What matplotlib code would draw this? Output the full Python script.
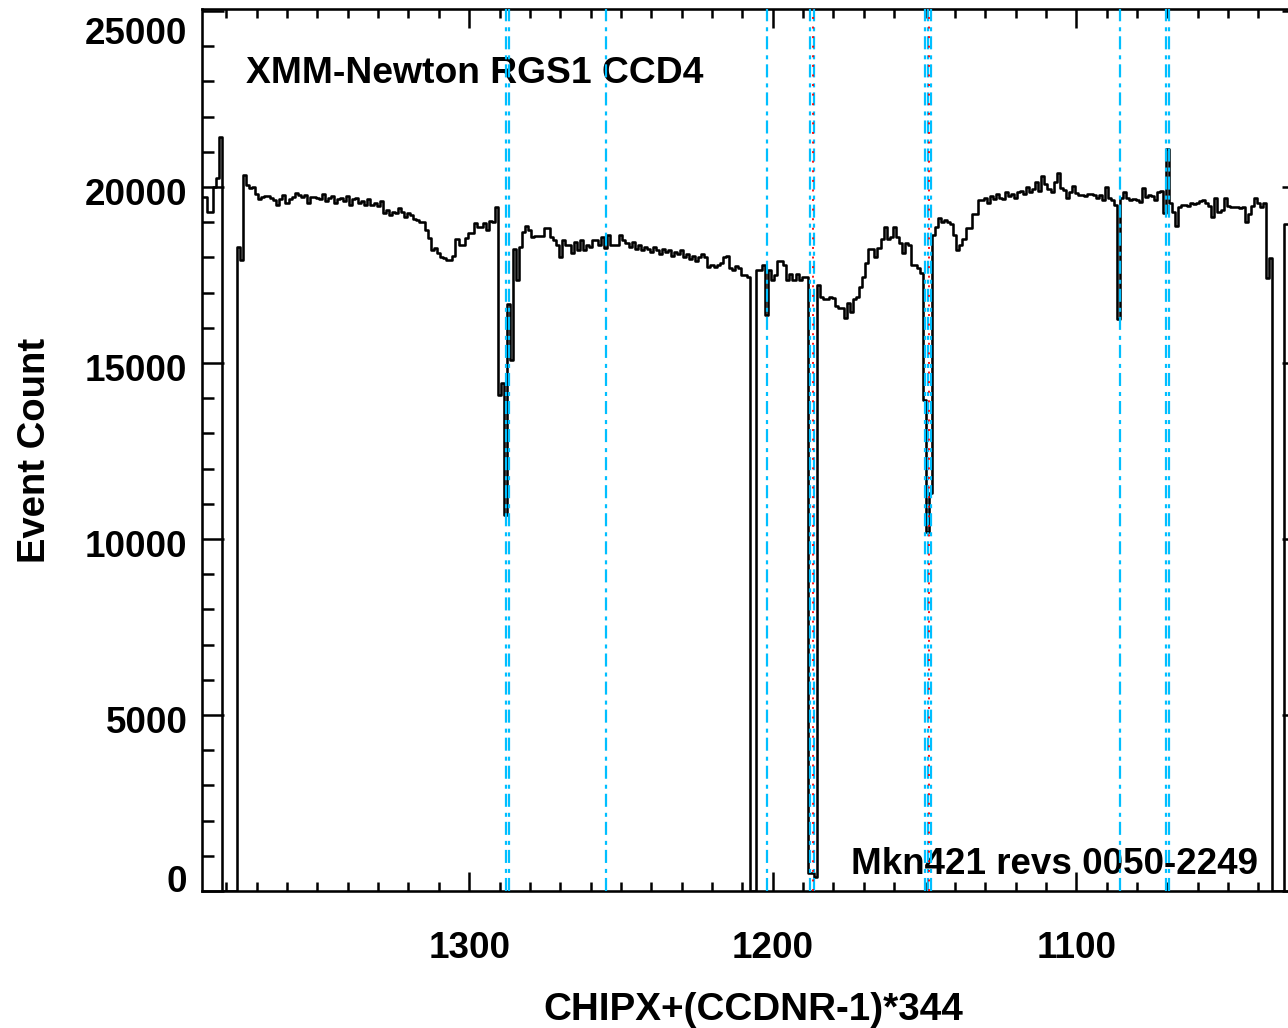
import matplotlib
matplotlib.use("Agg")
import matplotlib.pyplot as plt
import matplotlib.transforms as mtransforms
from matplotlib.ticker import MultipleLocator, FixedLocator

plt.rcParams['font.family'] = ['Liberation Sans', 'DejaVu Sans']
plt.rcParams['font.weight'] = 'bold'
plt.rcParams['lines.scale_dashes'] = False

# ---------------- data ----------------
# CHIPX+(CCDNR-1)*344 bin centres, from 1388 down to 1029 (one bin per pixel)
chipx = list(range(1388, 1028, -1))

event_count = [
    # 1388 - 1377 (edge of CCD5, gap)
    19720, 19720, 19290, 19290, 20000, 20260, 21420, 0, 0, 0, 0, 0,
    # 1376 - 1350
    18300, 17930, 20340, 20060, 19970, 20000, 19800, 19660, 19720, 19750,
    19750, 19690, 19630, 19490, 19660, 19770, 19550, 19660, 19720, 19830,
    19770, 19720, 19770, 19550, 19720, 19720, 19700,
    # 1349 - 1317
    19650, 19800, 19600, 19700, 19750, 19550, 19650, 19700, 19600, 19750,
    19500, 19650, 19700, 19550, 19600, 19500, 19650, 19500, 19550, 19450,
    19600, 19250, 19350, 19200, 19300, 19250, 19400, 19300, 19150, 19250,
    19200, 19100, 19050,
    # 1316 - 1250
    19010, 19010, 18780, 18550, 18210, 18270, 18130, 18000, 17980, 17930,
    17930, 18040, 18520, 18350, 18350, 18550, 18690, 18690, 18980, 18870,
    18870, 18980, 18780, 19030, 19010, 19430, 14090, 14430, 10680, 16680,
    15080, 18240, 17360, 18300, 18720, 18890, 18780, 18580, 18610, 18610,
    18610, 18840, 18840, 18580, 18500, 18350, 18010, 18500, 18350, 18350,
    18130, 18440, 18210, 18500, 18210, 18350, 18300, 18500, 18500, 18350,
    18580, 18270, 18640, 18350, 18350, 18350, 18640,
    # 1249 - 1224
    18500, 18400, 18300, 18450, 18250, 18350, 18200, 18300, 18250, 18150,
    18300, 18200, 18100, 18250, 18150, 18200, 18050, 18150, 18100, 18200,
    18000, 18100, 17950, 18050, 17900, 18000,
    # 1223 - 1186
    18110, 18020, 17740, 17780, 17740, 17780, 17830, 18020, 18040, 17690,
    17640, 17760, 17690, 17500, 17500, 17450, 0, 0, 17640, 17640,
    17780, 16360, 17640, 17360, 17500, 17910, 17910, 17780, 17360, 17540,
    17360, 17540, 17360, 17450, 17450, 500, 500, 400,
    # 1185 - 1131
    17220, 16880, 16820, 16820, 16880, 16840, 16620, 16550, 16550, 16290,
    16700, 16460, 16820, 16880, 17170, 17450, 17830, 18240, 18240, 18020,
    18270, 18520, 18870, 18520, 18580, 18860, 18580, 18410, 18130, 18410,
    18360, 17780, 17780, 17690, 17550, 13950, 10200, 11300, 18640, 18860,
    19130, 19000, 19050, 19000, 18950, 18640, 18210, 18350, 18520, 18840,
    18840, 19230, 19230, 19630, 19630,
    # 1130 - 1109
    19700, 19550, 19750, 19650, 19800, 19700, 19650, 19850, 19750, 19800,
    19700, 19850, 19900, 19800, 20000, 19850, 19950, 20150, 19900, 20300,
    20100, 19950,
    # 1108 - 1029
    19870, 20150, 20390, 19960, 19910, 19680, 19870, 20030, 19820, 19780,
    19760, 19740, 19800, 19800, 19760, 19680, 19760, 19630, 19990, 19680,
    19630, 19490, 16250, 19700, 19870, 19700, 19630, 19650, 19620, 19580,
    19960, 19720, 19760, 19740, 19630, 19870, 19880, 19270, 21070, 19550,
    19300, 18890, 19430, 19490, 19490, 19460, 19550, 19520, 19550, 19600,
    19630, 19560, 19460, 19160, 19680, 19300, 19360, 19700, 19450, 19420,
    19440, 19420, 19400, 19420, 19020, 19230, 19450, 19680, 19550, 19430,
    19550, 17420, 17980, 0, 0, 0, 0, 18950, 18950, 18950,
]

# positions of marked lines (CHIPX+(CCDNR-1)*344)
blue_lines = [1288.0, 1287.0, 1254.9, 1201.8, 1187.6, 1186.5,
              1149.7, 1148.9, 1147.9, 1085.5, 1070.3, 1069.5]
red_lines = [1186.9, 1148.6]

x_ticks = [1300, 1200, 1100]
y_ticks = [0, 5000, 10000, 15000, 20000, 25000]
x_range = (1388, 1025)
y_range = (0, 25050)

title_text = "XMM-Newton RGS1 CCD4"
source_text = "Mkn421 revs 0050-2249"
x_label = "CHIPX+(CCDNR-1)*344"
y_label = "Event Count"

# ---------------- figure ----------------
W, H = 1288, 1028
fig = plt.figure(figsize=(W / 100, H / 100), dpi=100)
ax_left, ax_bottom_px, ax_w, ax_h = 202, 891, 1102, 881.7
ax = fig.add_axes([ax_left / W, (H - ax_bottom_px) / H, ax_w / W, ax_h / H])

ax.step(chipx, event_count, where='mid', color='black', lw=1.85, zorder=2)

for xv in blue_lines:
    ax.axvline(xv, color='#00BFFF', lw=1.6, dashes=(9.4, 3.6, 2.9, 4.3), zorder=3)
for xv in red_lines:
    ax.axvline(xv, color='red', lw=1.3, dashes=(1.4, 5.5), zorder=4)

ax.set_xlim(*x_range)
ax.set_ylim(*y_range)

ax.xaxis.set_major_locator(FixedLocator(x_ticks))
ax.xaxis.set_minor_locator(MultipleLocator(10))
ax.yaxis.set_major_locator(FixedLocator(y_ticks))
ax.yaxis.set_minor_locator(MultipleLocator(1000))

for sp in ax.spines.values():
    sp.set_linewidth(1.85)

ax.tick_params(axis='both', which='both', direction='in', top=True, right=True,
               width=1.8, colors='black', labelsize=26.5)
ax.tick_params(axis='y', which='major', length=15.5, pad=10.5)
ax.tick_params(axis='y', which='minor', length=8.5)
ax.tick_params(axis='x', which='major', length=13.5, pad=29)
ax.tick_params(axis='x', which='minor', length=6.5)

ax.set_yticks(y_ticks)
ax.set_yticklabels([str(v) for v in y_ticks])
ax.set_xticks(x_ticks)
ax.set_xticklabels([str(v) for v in x_ticks])

# IDL-style vertical placement of y tick labels
for lab, val in zip(ax.get_yticklabels(), y_ticks):
    lab.set_va('baseline')
    if val == y_ticks[0]:
        dy = 1
    elif val == y_ticks[-1]:
        dy = 33
    else:
        dy = 18
    off = mtransforms.ScaledTranslation(0, -dy / 100, fig.dpi_scale_trans)
    lab.set_transform(lab.get_transform() + off)

ax.set_xlabel(x_label, fontsize=27.8, fontweight='bold')
ax.xaxis.set_label_coords((753 - ax_left) / ax_w, (ax_bottom_px - 1020) / ax_h)
ax.xaxis.label.set_va('baseline')

ax.set_ylabel(y_label, fontsize=27.5, fontweight='bold')
ax.yaxis.set_label_coords((35 - ax_left) / ax_w, (ax_bottom_px - 450) / ax_h)
ax.yaxis.label.set_va('center')
ax.yaxis.label.set_ha('center')

ax.text((246 - ax_left) / ax_w, (ax_bottom_px - 83) / ax_h, title_text,
        transform=ax.transAxes, ha='left', va='baseline', fontsize=26.8,
        fontweight='bold', zorder=1)
ax.text((1258 - ax_left) / ax_w, (ax_bottom_px - 874) / ax_h, source_text,
        transform=ax.transAxes, ha='right', va='baseline', fontsize=26.5,
        fontweight='bold', zorder=1)

fig.savefig("out.png", dpi=100)
